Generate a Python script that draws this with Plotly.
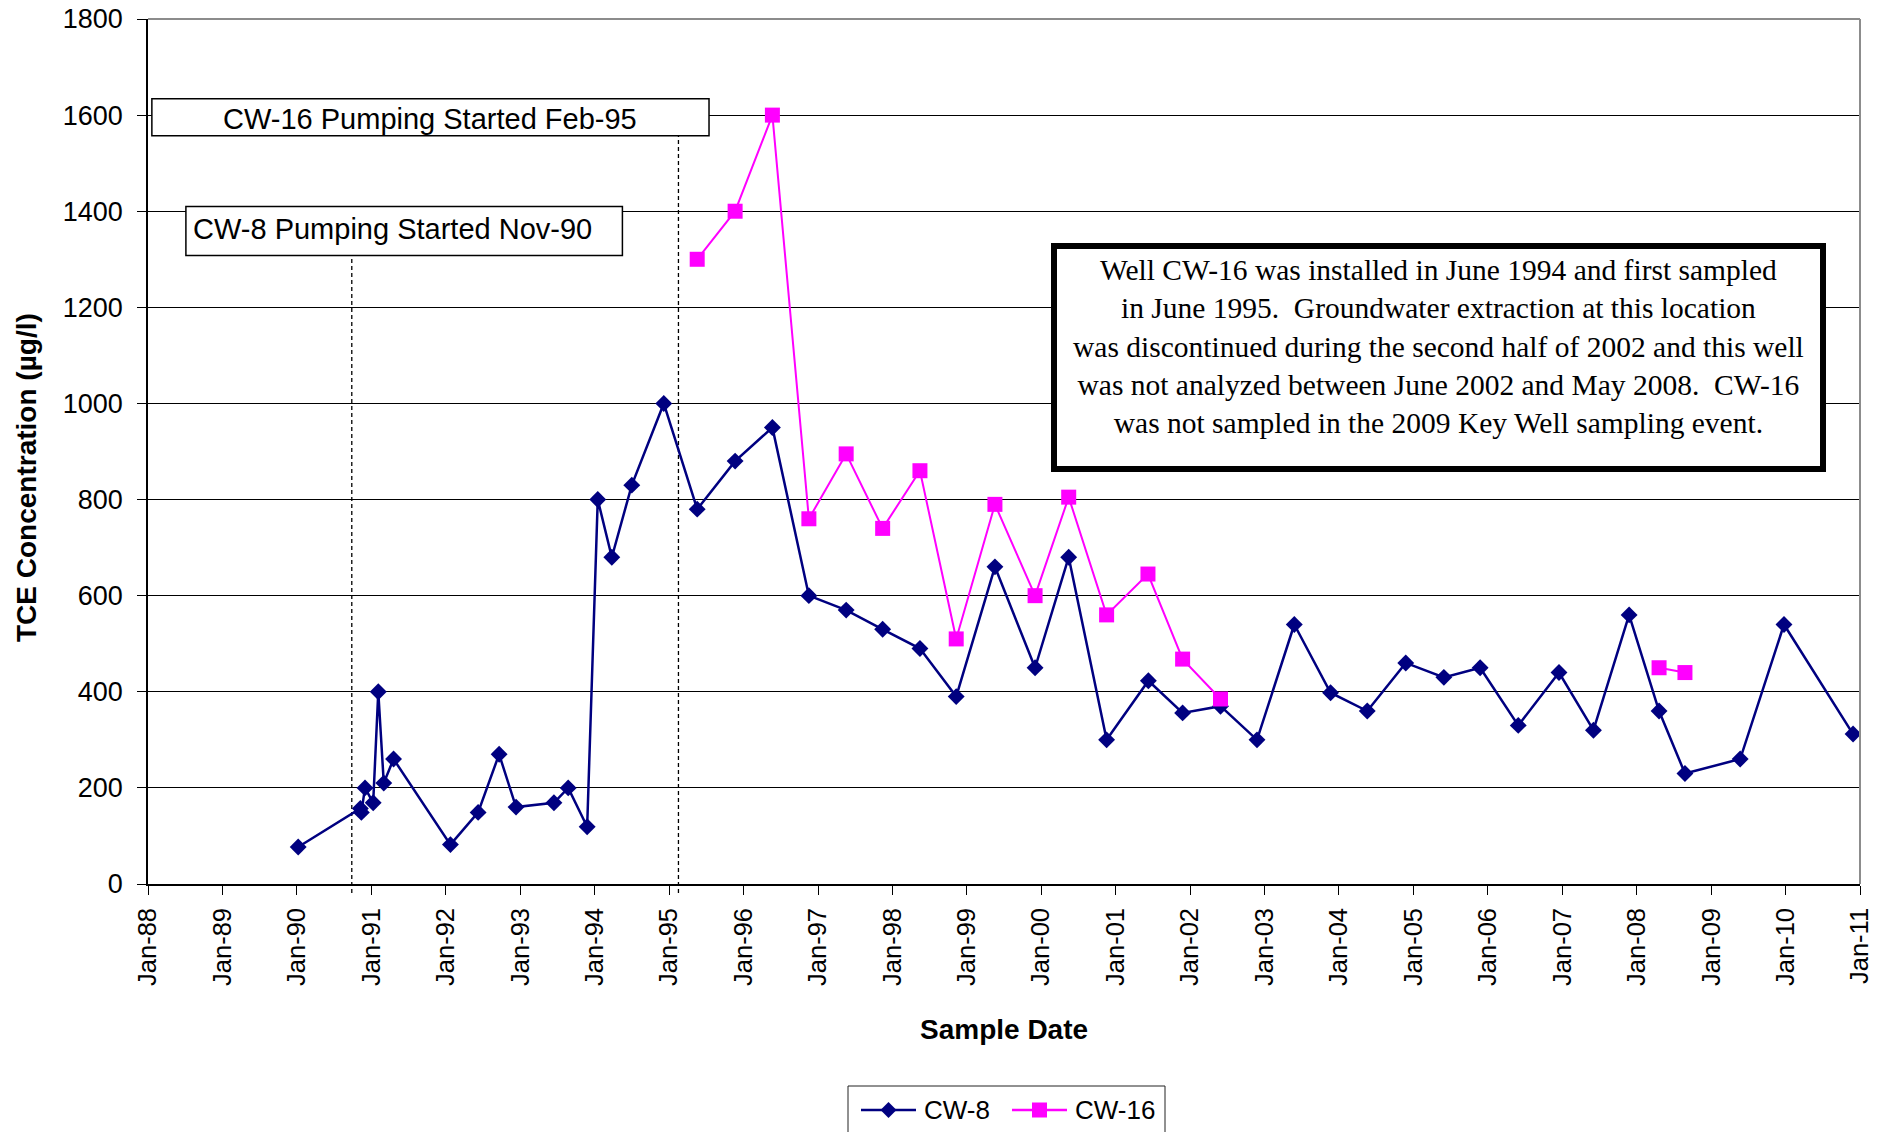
import plotly.graph_objects as go

# TCE concentrations (ug/l) by sample date
CW8_DATES = [
    "1990-01-07", "1990-11-08", "1990-11-13", "1990-12-01", "1991-01-10",
    "1991-02-04", "1991-03-03", "1991-04-20", "1992-01-24", "1992-06-08",
    "1992-09-19", "1992-12-11", "1993-06-15", "1993-08-24", "1993-11-25",
    "1994-01-16", "1994-03-26", "1994-07-02", "1994-12-06", "1995-05-19",
    "1995-11-21", "1996-05-22", "1996-11-17", "1997-05-19", "1997-11-14",
    "1998-05-16", "1998-11-10", "1999-05-19", "1999-12-02", "2000-05-15",
    "2000-11-17", "2001-06-10", "2001-11-25", "2002-05-30", "2002-11-25",
    "2003-05-27", "2003-11-21", "2004-05-19", "2004-11-24", "2005-05-30",
    "2005-11-24", "2006-05-30", "2006-12-16", "2007-06-03", "2007-11-25",
    "2008-04-20", "2008-08-25", "2009-05-23", "2009-12-24", "2010-11-28",
]
CW8_TCE = [
    77, 157, 149, 200, 169,
    400, 210, 260, 82, 149,
    270, 160, 169, 200, 119,
    800, 680, 830, 1000, 780,
    880, 950, 600, 570, 530,
    490, 390, 660, 450, 680,
    300, 423, 356, 370, 300,
    540, 398, 360, 460, 430,
    450, 330, 440, 320, 560,
    360, 230, 260, 540, 312,
]

# CW-16 was not analyzed between mid-2002 and 2008 (gap in the line)
CW16_DATES = [
    "1995-05-19", "1995-11-21", "1996-05-22", "1996-11-17", "1997-05-19",
    "1997-11-14", "1998-05-16", "1998-11-10", "1999-05-19", "1999-12-02",
    "2000-05-15", "2000-11-17", "2001-06-08", "2001-11-25", "2002-05-30",
    "2005-01-01", "2008-04-20", "2008-08-25",
]
CW16_TCE = [
    1300, 1400, 1600, 760, 895,
    740, 860, 510, 790, 600,
    805, 560, 645, 468, 385,
    None, 450, 440,
]

TICK_DATES = [
    "1988-01-01", "1989-01-01", "1990-01-01", "1991-01-01", "1992-01-01",
    "1993-01-01", "1994-01-01", "1995-01-01", "1996-01-01", "1997-01-01",
    "1998-01-01", "1999-01-01", "2000-01-01", "2001-01-01", "2002-01-01",
    "2003-01-01", "2004-01-01", "2005-01-01", "2006-01-01", "2007-01-01",
    "2008-01-01", "2009-01-01", "2010-01-01", "2011-01-01",
]
TICK_LABELS = [
    "Jan-88", "Jan-89", "Jan-90", "Jan-91", "Jan-92", "Jan-93", "Jan-94",
    "Jan-95", "Jan-96", "Jan-97", "Jan-98", "Jan-99", "Jan-00", "Jan-01",
    "Jan-02", "Jan-03", "Jan-04", "Jan-05", "Jan-06", "Jan-07", "Jan-08",
    "Jan-09", "Jan-10", "Jan-11",
]
Y_TICKS = [0, 200, 400, 600, 800, 1000, 1200, 1400, 1600, 1800]
Y_MAX = 1800

SERIES_NAMES = ["CW-8", "CW-16"]
SERIES_COLORS = ["#000080", "#FF00FF"]

# Pumping start markers
CW8_PUMP_START = "1990-09-27"
CW16_PUMP_START = "1995-02-16"

NOTE = ("Well CW-16 was installed in June 1994 and first sampled<br>"
        "in June 1995.  Groundwater extraction at this location<br>"
        "was discontinued during the second half of 2002 and this well<br>"
        "was not analyzed between June 2002 and May 2008.  CW-16<br>"
        "was not sampled in the 2009 Key Well sampling event.")

SANS = "Arial, Liberation Sans, sans-serif"
SERIF = "Times New Roman, Liberation Serif, serif"

# Figure geometry (pixels)
W, H = 1881, 1132
ML, MR, MT, MB = 148, 21, 19, 248
PW, PH = W - ML - MR, H - MT - MB


def px(x):
    """Horizontal page pixel -> paper fraction."""
    return (x - ML) / PW


def py(y):
    """Vertical page pixel (from top) -> paper fraction."""
    return (H - MB - y) / PH


fig = go.Figure()
fig.add_trace(go.Scatter(
    x=CW8_DATES, y=CW8_TCE, name=SERIES_NAMES[0], mode="lines+markers",
    line=dict(color=SERIES_COLORS[0], width=2.5),
    marker=dict(symbol="diamond", size=13, color=SERIES_COLORS[0]),
    showlegend=False,
))
fig.add_trace(go.Scatter(
    x=CW16_DATES, y=CW16_TCE, name=SERIES_NAMES[1], mode="lines+markers",
    connectgaps=False,
    line=dict(color=SERIES_COLORS[1], width=2),
    marker=dict(symbol="square", size=15, color=SERIES_COLORS[1]),
    showlegend=False,
))

# Label boxes for the pumping start dates (data coordinates)
box16 = dict(x0="1988-01-20", x1="1995-07-16", y0=1557, y1=1634)
box8 = dict(x0="1988-07-05", x1="1994-05-17", y0=1308, y1=1410)

shapes = [
    # grey top and right frame of the plot area
    dict(type="line", xref="paper", yref="paper", x0=0, x1=1, y0=1, y1=1,
         line=dict(color="#8c8c8c", width=2), layer="above"),
    dict(type="line", xref="paper", yref="paper", x0=1, x1=1, y0=0, y1=1,
         line=dict(color="#8c8c8c", width=2), layer="above"),
    # dashed pumping start lines
    dict(type="line", xref="x", yref="paper", x0=CW8_PUMP_START, x1=CW8_PUMP_START,
         y0=py(H - MB + 9), y1=box8["y0"] / Y_MAX,
         line=dict(color="black", width=1.3, dash="4px,3px"), layer="between"),
    dict(type="line", xref="x", yref="paper", x0=CW16_PUMP_START, x1=CW16_PUMP_START,
         y0=py(H - MB + 9), y1=box16["y0"] / Y_MAX,
         line=dict(color="black", width=1.3, dash="4px,3px"), layer="between"),
    dict(type="rect", xref="x", yref="y", **box16, fillcolor="white",
         line=dict(color="black", width=1.5), layer="above"),
    dict(type="rect", xref="x", yref="y", **box8, fillcolor="white",
         line=dict(color="black", width=1.5), layer="above"),
    # note box
    dict(type="rect", xref="paper", yref="paper", x0=px(1054), x1=px(1823),
         y0=py(469), y1=py(246), fillcolor="white",
         line=dict(color="black", width=6), layer="above"),
]

annotations = [
    dict(text="CW-16 Pumping Started Feb-95", x="1991-10-16", y=1592,
         xref="x", yref="y", xanchor="center", yanchor="middle",
         showarrow=False, font=dict(family=SANS, size=29)),
    dict(text="CW-8 Pumping Started Nov-90", x="1988-08-01", y=1362,
         xref="x", yref="y", xanchor="left", yanchor="middle", showarrow=False,
         font=dict(family=SANS, size=29)),
    dict(text=NOTE, x=px(1438.5), y=py(346), xref="paper", yref="paper",
         xanchor="center", yanchor="middle",
         showarrow=False, align="center", font=dict(family=SERIF, size=29.5)),
    dict(text="<b>TCE Concentration (µg/l)</b>", x=px(26), y=py(478),
         xref="paper", yref="paper", xanchor="center", yanchor="middle",
         textangle=-90, showarrow=False, font=dict(family=SANS, size=28)),
    dict(text="<b>Sample Date</b>", x=0.5, y=py(1029), xref="paper", yref="paper",
         xanchor="center", yanchor="middle",
         showarrow=False, font=dict(family=SANS, size=28)),
]

# Legend drawn as a framed key below the axis title
LEG_Y = 1110
LEG_ITEMS = [  # (line start, line end, text left) in page pixels
    (861, 916, 922),
    (1012, 1067, 1073),
]
shapes.append(dict(type="rect", xref="paper", yref="paper",
                   x0=px(848), x1=px(1165), y0=py(1140), y1=py(1086),
                   fillcolor="white", line=dict(color="#222", width=1),
                   layer="above"))
for (x0, x1, tx), name, color, kind in zip(LEG_ITEMS, SERIES_NAMES,
                                           SERIES_COLORS, ["diamond", "square"]):
    shapes.append(dict(type="line", xref="paper", yref="paper",
                       x0=px(x0), x1=px(x1), y0=py(LEG_Y), y1=py(LEG_Y),
                       line=dict(color=color, width=2.5), layer="above"))
    cx = (x0 + x1) / 2
    if kind == "diamond":
        h = 8
        path = (f"M {px(cx)},{py(LEG_Y - h)} L {px(cx + h)},{py(LEG_Y)} "
                f"L {px(cx)},{py(LEG_Y + h)} L {px(cx - h)},{py(LEG_Y)} Z")
    else:
        h = 7.5
        path = (f"M {px(cx - h)},{py(LEG_Y - h)} L {px(cx + h)},{py(LEG_Y - h)} "
                f"L {px(cx + h)},{py(LEG_Y + h)} L {px(cx - h)},{py(LEG_Y + h)} Z")
    shapes.append(dict(type="path", xref="paper", yref="paper", path=path,
                       fillcolor=color, line=dict(color=color, width=0),
                       layer="above"))
    annotations.append(dict(text=name, x=px(tx), y=py(LEG_Y), xref="paper",
                            yref="paper", xanchor="left", yanchor="middle",
                            showarrow=False, font=dict(family=SANS, size=26)))

fig.update_layout(
    width=W, height=H,
    margin=dict(l=ML, r=MR, t=MT, b=MB),
    paper_bgcolor="white", plot_bgcolor="white",
    font=dict(family=SANS, size=26, color="black"),
    showlegend=False,
    xaxis=dict(type="date", range=["1988-01-01", "2011-01-01"],
               tickvals=TICK_DATES, ticktext=TICK_LABELS, tickangle=-90,
               ticks="outside", ticklen=9, tickwidth=1.3, tickcolor="black",
               showline=True, linecolor="black", linewidth=1.5,
               showgrid=False, zeroline=False, ticklabelstandoff=3,
               tickfont=dict(size=25.5), automargin=False),
    yaxis=dict(range=[0, Y_MAX], tickvals=Y_TICKS,
               ticks="outside", ticklen=9, tickwidth=1.3, tickcolor="black",
               showline=True, linecolor="black", linewidth=1.5,
               showgrid=True, gridcolor="black", gridwidth=1,
               zeroline=False, ticklabelstandoff=9, tickfont=dict(size=27),
               automargin=False),
    shapes=shapes,
    annotations=annotations,
    hovermode=False,
)

fig.write_html("out.html")
